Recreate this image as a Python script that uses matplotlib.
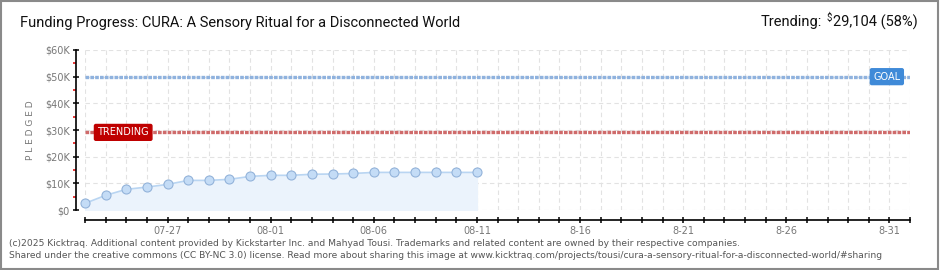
import matplotlib

matplotlib.use("Agg")
import matplotlib.pyplot as plt
import matplotlib.dates as mdates
from matplotlib.patches import Rectangle
from matplotlib.ticker import MultipleLocator, FuncFormatter
import pandas as pd

# pledged totals per day (USD)
dates = ["2025-07-23", "2025-07-24", "2025-07-25", "2025-07-26", "2025-07-27",
         "2025-07-28", "2025-07-29", "2025-07-30", "2025-07-31", "2025-08-01",
         "2025-08-02", "2025-08-03", "2025-08-04", "2025-08-05", "2025-08-06",
         "2025-08-07", "2025-08-08", "2025-08-09", "2025-08-10", "2025-08-11"]
pledged = [2500, 5500, 7750, 8600, 9600, 11100, 11100, 11500, 12600, 13000,
           13000, 13400, 13500, 13700, 14100, 14100, 14100, 14100, 14100, 14100]
goal = 50000
trending = 29104
trending_pct = 58
x_start, x_end = "2025-07-23", "2025-09-01"
labelled_days = ["2025-07-27", "2025-08-01", "2025-08-06", "2025-08-11",
                 "2025-08-16", "2025-08-21", "2025-08-26", "2025-08-31"]
title = "Funding Progress: CURA: A Sensory Ritual for a Disconnected World"
footer = ["(c)2025 Kicktraq. Additional content provided by Kickstarter Inc. and Mahyad Tousi. "
          "Trademarks and related content are owned by their respective companies.",
          "Shared under the creative commons (CC BY-NC 3.0) license. Read more about sharing this image at "
          "www.kicktraq.com/projects/tousi/cura-a-sensory-ritual-for-a-disconnected-world/#sharing"]

W, H = 940, 270
HEAD_FONT = ["Roboto", "DejaVu Sans"]
GRAY = "#777777"

fig = plt.figure(figsize=(W / 100, H / 100), dpi=100)
fig.patch.set_facecolor("white")
fig.add_artist(Rectangle((0.5 / W, 1.5 / H), 937 / W, 267.5 / H, transform=fig.transFigure,
                         fill=False, edgecolor="#8a8a8a", lw=1.5))

ax = fig.add_axes([85 / W, 1 - 210 / H, 825 / W, 160 / H])
x = pd.to_datetime(dates)
ax.set_xlim(pd.Timestamp(x_start), pd.Timestamp(x_end))
ax.set_ylim(0, 60000)

ax.xaxis.set_major_locator(mdates.DayLocator())
ax.set_xticklabels([])
label_num = set(mdates.date2num(pd.to_datetime(labelled_days)))


def xlabel(v, pos=None):
    if v not in label_num:
        return ""
    d = mdates.num2date(v)
    if d.month == 8 and d.day > 11:
        return f"{d.month}-{d.day}"
    return d.strftime("%m-%d")


ax.xaxis.set_major_formatter(FuncFormatter(xlabel))
ax.yaxis.set_major_locator(MultipleLocator(10000))
ax.yaxis.set_minor_locator(MultipleLocator(5000))
ax.yaxis.set_major_formatter(FuncFormatter(lambda v, p: "$0" if v == 0 else f"${int(v / 1000)}K"))
ax.xaxis.grid(True, which="major", color="#e2e2e2", ls=(0, (4, 3)), lw=0.8)
ax.yaxis.grid(True, which="major", color="#e2e2e2", ls=(0, (4, 3)), lw=0.8)
ax.set_axisbelow(True)

for s in ("top", "right"):
    ax.spines[s].set_visible(False)
ax.spines["left"].set_position(("outward", 6.5))
ax.spines["bottom"].set_position(("outward", 7.2))
ax.spines["left"].set_bounds(0, 60000)
ax.spines["bottom"].set_bounds(mdates.date2num(pd.Timestamp(x_start)), mdates.date2num(pd.Timestamp(x_end)))
ax.spines["left"].set_linewidth(1.2)
ax.spines["bottom"].set_linewidth(1.2)
ax.tick_params(axis="x", which="both", direction="inout", length=5, width=1.1, color="black",
               labelsize=7, labelcolor=GRAY, pad=1.5)
ax.tick_params(axis="y", which="major", direction="inout", length=4, width=1.1, color="black",
               labelsize=7, labelcolor=GRAY, pad=2.5)
ax.tick_params(axis="y", which="minor", direction="out", length=2.5, width=1.1, color="#e00000")
ax.set_ylabel("P L E D G E D", fontsize=6.5, color=GRAY, labelpad=7)

# goal and trending lines
ax.axhline(goal, color="#8fb2de", lw=2.4, ls=(0, (1.1, 0.35)), zorder=2)
ax.axhline(trending, color="#cf6b6b", lw=2.4, ls=(0, (1.1, 0.35)), zorder=2)
lbl = ax.get_yaxis_transform()
ax.text(0.015, trending, "TRENDING", transform=lbl, ha="left", va="center", fontsize=7,
        color="white", zorder=5,
        bbox=dict(boxstyle="round,pad=0.3,rounding_size=0.15", fc="#bf0000", ec="#bf0000"))
ax.text(0.9555, goal, "GOAL", transform=lbl, ha="left", va="center", fontsize=7,
        color="white", zorder=5,
        bbox=dict(boxstyle="round,pad=0.3,rounding_size=0.15", fc="#3f8ad8", ec="#3f8ad8"))

# pledged series
ax.fill_between(x, pledged, 0, color="#ebf3fc", zorder=1)
ax.plot(x, pledged, color="#b9d5f2", lw=1.2, zorder=3)
ax.plot(x, pledged, "o", ms=6.5, mfc="#c4dcf6", mec="#93b3da", mew=0.8, zorder=4, clip_on=False)

# header
fig.text(20 / W, 1 - 23 / H, title, fontsize=10.5, family=HEAD_FONT, color="#111111", va="center")
right = fig.text(918 / W, 1 - 22 / H, f"{trending:,} ({trending_pct}%)", fontsize=10.5,
                 family=HEAD_FONT, color="#111111", va="center", ha="right")
fig.canvas.draw()
bb = right.get_window_extent()
dollar = fig.text((bb.x0 - 1) / W, 1 - 18 / H, "$", fontsize=7, family=HEAD_FONT,
                  color="#111111", va="center", ha="right")
fig.canvas.draw()
bd = dollar.get_window_extent()
fig.text((bd.x0 - 5) / W, 1 - 22 / H, "Trending:", fontsize=10.5, family=HEAD_FONT,
         color="#111111", va="center", ha="right")

# footer
fig.text(9 / W, 1 - 244 / H, footer[0], fontsize=6.6, color="#555555", va="center")
fig.text(9 / W, 1 - 256 / H, footer[1], fontsize=6.6, color="#555555", va="center")

fig.savefig("out.png", dpi=100)
